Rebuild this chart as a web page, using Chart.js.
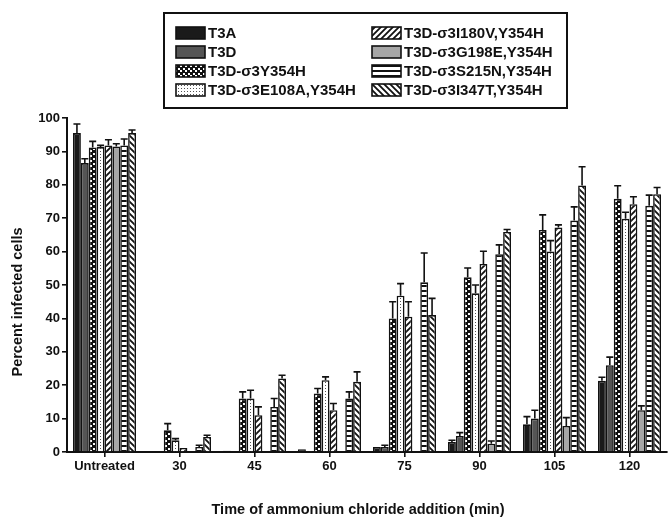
<!DOCTYPE html>
<html>
<head>
<meta charset="utf-8">
<script src="https://cdn.jsdelivr.net/npm/chart.js@4"></script>
<style>
  html, body { margin: 0; padding: 0; background: #fff; }
  #chart { display: block; }
</style>
</head>
<body>
<canvas id="chart" width="671" height="525"></canvas>
<script>
const categories = ['Untreated', '30', '45', '60', '75', '90', '105', '120'];

const t3a = [95.5, 0, 0.4, 0.8, 1.5, 3.0, 8.3, 21.3];
const t3aErr = [2.7, 0, 0, 0, 0, 0.5, 2.3, 1.1];
const t3d = [86.5, 0, 0.2, 0.3, 1.5, 4.8, 10.0, 26.0];
const t3dErr = [1.3, 0, 0, 0, 0.5, 1.0, 2.5, 2.4];
const y354h = [91.2, 6.5, 16.0, 17.5, 40.0, 52.3, 66.5, 75.8];
const y354hErr = [1.8, 2.0, 2.0, 1.5, 5.0, 2.8, 4.5, 3.9];
const e108a = [91.3, 3.5, 16.0, 21.5, 46.8, 47.5, 60.0, 69.8];
const e108aErr = [0.5, 0.5, 2.5, 1.0, 3.6, 2.5, 3.3, 2.0];
const i180v = [91.8, 1.2, 11.0, 12.5, 40.5, 56.3, 67.2, 74.2];
const i180vErr = [1.7, 0, 2.5, 2.0, 4.5, 3.8, 0.8, 2.2];
const g198e = [91.5, 0, 0, 0, 0, 2.5, 7.8, 12.5];
const g198eErr = [0.8, 0, 0, 0, 0, 0.8, 2.5, 1.3];
const s215n = [91.8, 1.5, 13.5, 16.0, 50.8, 59.2, 69.3, 73.7];
const s215nErr = [1.9, 0.5, 2.5, 2.0, 8.8, 2.8, 4.1, 3.2];
const i347t = [95.5, 4.5, 22.0, 21.0, 41.0, 65.9, 79.8, 77.2];
const i347tErr = [0.9, 0.5, 1.0, 3.0, 5.0, 0.7, 5.6, 2.0];

const xTitle = 'Time of ammonium chloride addition (min)';
const yTitle = 'Percent infected cells';

const FONT = '"Liberation Sans", Arial, Helvetica, sans-serif';

function makePattern(w, h, draw) {
  const c = document.createElement('canvas');
  c.width = w;
  c.height = h;
  const g = c.getContext('2d');
  g.fillStyle = '#fff';
  g.fillRect(0, 0, w, h);
  g.fillStyle = '#111';
  g.strokeStyle = '#111';
  draw(g);
  return g.createPattern(c, 'repeat');
}

const ctx = document.getElementById('chart').getContext('2d');

const checker = makePattern(5, 5, (g) => {
  g.fillRect(0, 0, 5, 5);
  g.fillStyle = '#fff';
  g.fillRect(0, 0, 2, 2);
  g.fillRect(3, 3, 2, 2);
});
const dots = makePattern(3, 3, (g) => {
  g.fillStyle = '#555';
  g.fillRect(1, 1, 1, 1);
});
const diagUp = makePattern(6, 6, (g) => {
  g.lineWidth = 1.8;
  g.beginPath();
  g.moveTo(-1, 7); g.lineTo(7, -1);
  g.moveTo(-4, 4); g.lineTo(4, -4);
  g.moveTo(2, 10); g.lineTo(10, 2);
  g.stroke();
});
const diagDown = makePattern(6, 6, (g) => {
  g.lineWidth = 1.8;
  g.beginPath();
  g.moveTo(-1, -1); g.lineTo(7, 7);
  g.moveTo(-4, 2); g.lineTo(4, 10);
  g.moveTo(2, -4); g.lineTo(10, 4);
  g.stroke();
});
const hStripes = makePattern(2, 5, (g) => {
  g.fillRect(0, 0, 2, 2);
});

const series = [
  { label: 'T3A', data: t3a, err: t3aErr, fill: '#1a1a1a' },
  { label: 'T3D', data: t3d, err: t3dErr, fill: '#555555' },
  { label: 'T3D-\u03c33Y354H', data: y354h, err: y354hErr, fill: checker },
  { label: 'T3D-\u03c33E108A,Y354H', data: e108a, err: e108aErr, fill: dots },
  { label: 'T3D-\u03c33I180V,Y354H', data: i180v, err: i180vErr, fill: diagUp },
  { label: 'T3D-\u03c33G198E,Y354H', data: g198e, err: g198eErr, fill: '#a6a6a6' },
  { label: 'T3D-\u03c33S215N,Y354H', data: s215n, err: s215nErr, fill: hStripes },
  { label: 'T3D-\u03c33I347T,Y354H', data: i347t, err: i347tErr, fill: diagDown },
];

const errorBars = {
  id: 'errorBars',
  afterDatasetsDraw(chart) {
    const c = chart.ctx;
    const y = chart.scales.y;
    c.save();
    c.strokeStyle = '#111';
    c.lineWidth = 1.6;
    chart.data.datasets.forEach((ds, i) => {
      chart.getDatasetMeta(i).data.forEach((bar, j) => {
        const e = ds.errors[j];
        if (!e) return;
        const top = y.getPixelForValue(ds.data[j] + e);
        c.beginPath();
        c.moveTo(bar.x, bar.y);
        c.lineTo(bar.x, top);
        c.moveTo(bar.x - 3.5, top);
        c.lineTo(bar.x + 3.5, top);
        c.stroke();
      });
    });
    c.restore();
  },
};

// legend box and axis titles, placed as in the original figure
const boxLegend = {
  id: 'boxLegend',
  afterDraw(chart) {
    const c = chart.ctx;
    c.save();
    c.strokeStyle = '#111';
    c.lineWidth = 2;
    c.strokeRect(164, 13, 403, 95);
    c.font = 'bold 15px ' + FONT;
    c.textBaseline = 'middle';
    const rows = [33, 52, 71, 90];
    chart.data.datasets.forEach((ds, i) => {
      const col = Math.floor(i / 4);
      const x = col === 0 ? 176 : 372;
      const yc = rows[i % 4];
      c.fillStyle = ds.backgroundColor;
      c.fillRect(x, yc - 6, 29, 12);
      c.lineWidth = 1.6;
      c.strokeRect(x, yc - 6, 29, 12);
      c.fillStyle = '#111';
      c.fillText(ds.label, x + 32, yc + 1);
    });

    c.font = 'bold 14.5px ' + FONT;
    c.textAlign = 'center';
    c.fillText(xTitle, 358, 510);
    c.translate(18, 302);
    c.rotate(-Math.PI / 2);
    c.fillText(yTitle, 0, 0);
    c.restore();
  },
};

new Chart(ctx, {
  type: 'bar',
  data: {
    labels: categories,
    datasets: series.map((s) => ({
      label: s.label,
      data: s.data,
      errors: s.err,
      backgroundColor: s.fill,
      borderColor: '#111',
      borderWidth: 1.6,
      categoryPercentage: 0.84,
      barPercentage: 1.0,
    })),
  },
  options: {
    responsive: false,
    animation: false,
    devicePixelRatio: 1,
    layout: { padding: { top: 118, right: 4, bottom: 5, left: 8 } },
    plugins: {
      legend: { display: false },
      tooltip: { enabled: false },
    },
    scales: {
      x: {
        afterFit: (scale) => { scale.height = 68; },
        border: { color: '#111', width: 2 },
        grid: { offset: false, drawOnChartArea: false, color: '#111', lineWidth: 1.6, tickLength: 5 },
        ticks: { color: '#111', font: { family: FONT, size: 13, weight: 'bold' }, padding: 2 },
      },
      y: {
        afterFit: (scale) => { scale.width = 59; },
        min: 0,
        max: 100,
        ticks: { stepSize: 10, color: '#111', font: { family: FONT, size: 13, weight: 'bold' }, padding: 2 },
        border: { color: '#111', width: 2 },
        grid: { drawOnChartArea: false, color: '#111', lineWidth: 1.6, tickLength: 5 },
      },
    },
  },
  plugins: [errorBars, boxLegend],
});
</script>
</body>
</html>
